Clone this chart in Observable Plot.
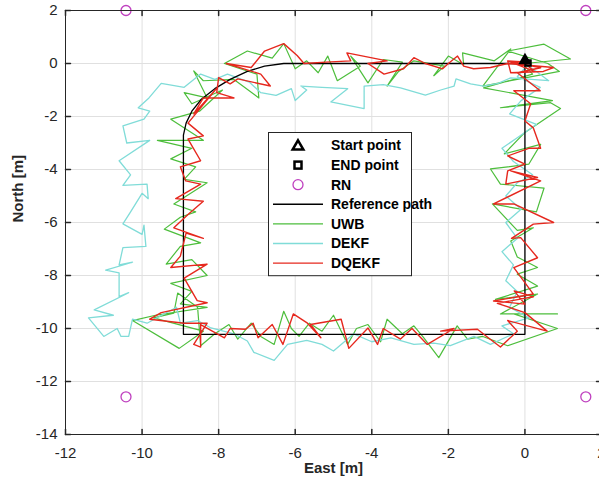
<!DOCTYPE html>
<html><head><meta charset="utf-8">
<script src="https://cdn.jsdelivr.net/npm/d3@7"></script>
<script src="https://cdn.jsdelivr.net/npm/@observablehq/plot@0.6"></script>
<style>
body{margin:0;background:#fff;}
#chart{position:relative;width:599px;height:491px;overflow:hidden;}
#chart svg{overflow:hidden;}
</style>
</head><body><div id="chart"></div>
<script>
// ---- axis ticks & labels ----
const xTicks = [-12, -10, -8, -6, -4, -2, 0, 2];
const yTicks = [-14, -12, -10, -8, -6, -4, -2, 0, 2];
const xLabel = "East [m]";
const yLabel = "North [m]";

// ---- fixed points ----
const startPoint = [[0.0, 0.12]];
const endPoint = [[0.08, 0.02]];
const rnPoints = [[-10.42, 2.0], [1.59, 2.0], [-10.42, -12.58], [1.59, -12.58]];

// ---- reference path [east, north] ----
const referencePath = [[0, 0], [-6.3, 0], [-6.8, -0.1], [-7.25, -0.3], [-7.7, -0.6], [-8.1, -0.95], [-8.45, -1.35], [-8.7, -1.8], [-8.85, -2.25], [-8.92, -2.7], [-8.92, -10.22], [0, -10.22], [0, 0]];

// ---- UWB measurements ----
const uwb = [[0, 0], [1.19, 0.17], [0.5, 0.73], [-0.45, 0.47], [0.6, 0.0], [0.9, -0.3], [-1.1, -0.85], [-0.37, 0.55], [-0.8, 0.1], [-1.63, 0.4], [-1.6, -0.05], [-2.0, 0.28], [-2.38, -0.46], [-2.1, -0.1], [-2.9, 0.1], [-3.3, -0.3], [-3.6, -0.85], [-3.2, 0.05], [-3.7, 0.15], [-4.1, -0.73], [-4.55, 0.28], [-4.3, -0.1], [-4.9, -0.65], [-5.15, 0.28], [-5.4, -0.35], [-5.7, 0.1], [-6.0, -0.2], [-6.3, 0.75], [-6.6, 0.2], [-7.25, 0.47], [-7.85, 0.0], [-7.0, -0.4], [-6.95, -1.3], [-7.6, -0.6], [-8.4, -0.65], [-8.65, -0.28], [-8.3, -1.3], [-8.9, -1.1], [-8.7, -1.52], [-7.9, -1.0], [-8.5, -1.8], [-9.25, -2.1], [-8.4, -2.9], [-9.6, -2.9], [-8.7, -3.2], [-9.25, -3.6], [-8.6, -3.9], [-8.9, -4.37], [-8.3, -4.5], [-9.17, -5.3], [-8.6, -5.6], [-9.0, -5.8], [-9.42, -6.25], [-8.47, -6.77], [-9.0, -6.9], [-9.37, -7.57], [-8.7, -7.4], [-8.3, -8.0], [-9.25, -8.3], [-8.7, -8.6], [-9.0, -9.07], [-8.3, -9.2], [-9.65, -9.5], [-10.25, -9.7], [-9.03, -10.75], [-8.4, -10.1], [-9.7, -9.6], [-9.17, -9.42], [-9.07, -8.66], [-8.55, -9.2], [-8.47, -10.65], [-8.1, -10.2], [-7.73, -9.85], [-7.5, -10.4], [-7.15, -9.8], [-6.9, -10.3], [-6.55, -10.6], [-6.3, -9.35], [-6.1, -10.0], [-5.9, -10.3], [-5.63, -9.8], [-5.3, -10.1], [-5.0, -9.5], [-4.63, -10.6], [-4.4, -10.0], [-4.1, -9.85], [-3.77, -10.5], [-3.6, -9.65], [-3.2, -10.2], [-2.9, -9.9], [-2.64, -10.35], [-2.25, -11.1], [-1.77, -9.9], [-1.5, -10.4], [-1.1, -10.3], [-0.45, -10.65], [0.85, -10.0], [-0.29, -9.45], [0.85, -9.45], [-0.64, -9.45], [0.33, -8.7], [-0.77, -8.9], [0.33, -8.4], [-0.2, -7.95], [0.33, -7.7], [-0.2, -7.3], [-0.37, -6.7], [0.22, -6.2], [-0.2, -6.3], [-0.85, -5.3], [0.3, -5.6], [0.5, -4.7], [-0.64, -4.55], [-0.9, -3.98], [0.1, -3.8], [0.41, -3.05], [-0.54, -3.41], [0.0, -2.6], [0.93, -1.7], [0.67, -1.48], [-0.64, -1.67], [0.72, -1.4], [-1.08, -0.92], [0.2, -0.4], [-0.1, 0.05]];

// ---- DEKF estimate ----
const dekf = [[0, 0], [0.3, -0.3], [0.62, -0.65], [-0.37, -0.54], [-0.7, -0.75], [-1.08, -0.85], [-1.42, -0.77], [-1.8, -0.58], [-1.85, -0.85], [-2.2, -1.0], [-2.6, -1.19], [-3.25, -0.92], [-3.7, -0.8], [-4.2, -0.85], [-4.2, -1.7], [-5.07, -1.45], [-4.63, -0.95], [-5.3, -0.9], [-5.85, -0.85], [-5.7, -1.0], [-6.0, -1.4], [-6.1, -0.95], [-6.5, -1.2], [-6.9, -1.1], [-7.2, -0.7], [-7.77, -0.4], [-8.1, -0.6], [-8.47, -0.4], [-8.9, -0.9], [-9.5, -0.75], [-9.82, -1.3], [-10.1, -1.67], [-9.8, -1.8], [-9.95, -2.1], [-10.5, -2.35], [-10.4, -3.0], [-9.8, -2.9], [-10.6, -3.67], [-10.3, -4.2], [-10.5, -4.6], [-9.87, -4.55], [-9.84, -5.1], [-10.0, -4.9], [-10.3, -5.6], [-10.5, -6.05], [-10.0, -6.45], [-9.95, -6.1], [-9.9, -6.9], [-10.5, -6.95], [-10.6, -7.6], [-10.25, -7.5], [-10.95, -7.8], [-10.6, -7.9], [-10.6, -8.8], [-10.35, -8.65], [-11.25, -9.3], [-10.75, -9.5], [-11.4, -9.6], [-11.0, -10.3], [-10.65, -10.0], [-10.55, -10.3], [-10.35, -10.3], [-10.25, -9.65], [-9.87, -9.8], [-9.1, -9.2], [-9.0, -9.8], [-8.55, -9.7], [-8.2, -9.98], [-7.6, -10.2], [-7.25, -10.47], [-7.08, -10.9], [-6.55, -11.2], [-6.2, -10.6], [-5.7, -10.45], [-5.3, -10.6], [-5.0, -10.85], [-4.47, -10.2], [-4.0, -10.5], [-3.5, -10.35], [-2.9, -10.6], [-2.38, -10.55], [-1.95, -10.65], [-1.33, -10.3], [-0.9, -10.6], [-0.3, -10.2], [-0.6, -9.9], [0.1, -9.6], [-0.4, -9.2], [-0.2, -8.6], [-0.5, -8.2], [-0.3, -7.6], [-0.6, -7.1], [-0.2, -6.6], [-0.5, -6.0], [-0.1, -5.5], [-0.5, -5.0], [-0.2, -4.5], [0.2, -4.2], [-0.3, -3.7], [-0.6, -3.2], [-0.2, -2.8], [0.3, -2.3], [-0.4, -1.9], [-0.1, -1.4], [0.4, -0.9], [-0.2, -0.5], [0.1, 0.0]];

// ---- DQEKF estimate ----
const dqekf = [[0.0, 0.0], [0.25, -0.3], [-0.45, 0.1], [-0.37, -0.35], [0.48, -0.3], [0.75, -0.15], [-0.45, 0.0], [-0.9, -0.15], [-1.34, -0.2], [-1.6, -0.1], [-1.76, 0.28], [-2.0, 0.0], [-2.15, -0.2], [-2.6, 0.0], [-2.9, 0.22], [-3.17, -0.2], [-3.68, -0.4], [-4.1, 0.0], [-3.6, 0.1], [-4.65, 0.4], [-4.55, 0.1], [-5.2, 0.05], [-5.77, 0.0], [-5.95, 0.3], [-6.3, 0.75], [-6.8, 0.47], [-7.15, -0.15], [-7.8, 0.0], [-6.9, -0.4], [-6.65, -0.85], [-7.5, -0.58], [-7.7, -0.77], [-8.0, -0.53], [-8.05, -1.1], [-7.6, -1.3], [-8.4, -1.3], [-8.65, -1.9], [-8.03, -0.9], [-8.8, -2.25], [-8.4, -2.73], [-8.8, -2.85], [-8.47, -3.67], [-9.0, -3.9], [-8.86, -4.43], [-8.47, -4.55], [-9.12, -5.1], [-8.4, -5.2], [-8.8, -5.7], [-9.17, -6.2], [-8.4, -6.6], [-8.85, -6.4], [-9.0, -7.27], [-9.25, -7.7], [-8.3, -7.57], [-8.9, -8.1], [-8.56, -8.95], [-8.3, -9.03], [-9.5, -9.4], [-9.8, -9.65], [-8.9, -9.8], [-8.3, -9.8], [-8.65, -10.6], [-8.47, -10.7], [-8.47, -9.85], [-7.85, -10.35], [-7.7, -10.0], [-7.3, -10.03], [-7.1, -9.8], [-6.97, -10.35], [-6.6, -9.85], [-6.32, -10.6], [-6.05, -9.45], [-5.68, -9.8], [-5.33, -10.35], [-5.6, -9.85], [-4.8, -9.65], [-4.6, -10.75], [-4.1, -9.98], [-3.85, -10.6], [-3.7, -10.0], [-3.25, -10.4], [-2.95, -10.0], [-2.55, -10.6], [-1.85, -10.0], [-2.2, -10.1], [-1.24, -10.03], [-1.0, -10.3], [-0.64, -10.7], [-0.2, -10.1], [-0.45, -9.7], [0.58, -10.1], [0.0, -9.4], [-0.72, -9.05], [0.22, -8.8], [-0.28, -8.58], [0.0, -9.08], [-0.82, -8.96], [0.22, -8.7], [-0.29, -7.7], [0.33, -7.33], [-0.11, -6.57], [-0.35, -6.6], [0.22, -6.06], [0.75, -6.0], [-0.29, -5.3], [-0.82, -5.3], [0.41, -4.43], [-0.37, -4.05], [0.33, -4.3], [-0.5, -4.55], [-0.45, -4.05], [0.0, -3.8], [-0.45, -3.49], [0.1, -3.2], [0.41, -3.2], [0.22, -2.43], [0.0, -2.17], [0.15, -1.52], [-0.29, -1.03], [0.4, -1.03], [-0.2, -0.35], [0.41, -0.16], [-0.45, 0.1], [0.1, 0.05]];

// ---- legend ----
const legendLabels = ["Start point", "END point", "RN", "Reference path", "UWB", "DEKF", "DQEKF"];
const legendKinds = ["triangle", "square", "circle", "line", "line", "line", "line"];
const legendColors = ["#000000", "#000000", "#bf40bf", "#000000", "#4dbe3c", "#80dcd8", "#e6281e"];

const axisColor = "#262626";
const px = d => d[0], py = d => d[1];
const tickShape = {draw(ctx, l) { ctx.moveTo(0, 0); ctx.lineTo(0, -l); }};

const plot = Plot.plot({
  width: 599, height: 491,
  marginLeft: 65, marginRight: -2, marginTop: 10, marginBottom: 57,
  x: {domain: [-12, 2]},
  y: {domain: [-14, 2]},
  style: {fontFamily: "'Liberation Sans', Arial, sans-serif", fontSize: "15px", color: axisColor, background: "#fff"},
  marks: [
    Plot.ruleX(xTicks, {stroke: "#e0e0e0", strokeWidth: 1}),
    Plot.ruleY(yTicks, {stroke: "#e0e0e0", strokeWidth: 1}),
    Plot.line(uwb, {x: px, y: py, stroke: legendColors[4], strokeWidth: 1.2, curve: "linear"}),
    Plot.line(dekf, {x: px, y: py, stroke: legendColors[5], strokeWidth: 1.3, curve: "linear"}),
    Plot.line(referencePath, {x: px, y: py, stroke: "#000", strokeWidth: 1.3, curve: "linear"}),
    Plot.line(dqekf, {x: px, y: py, stroke: legendColors[6], strokeWidth: 1.4, curve: "linear"}),
    Plot.dot(startPoint, {x: px, y: py, symbol: "triangle", r: 3.5, stroke: "#000", strokeWidth: 2.2, fill: "#000"}),
    Plot.dot(endPoint, {x: px, y: py, symbol: "square", r: 3, stroke: "#000", strokeWidth: 2.2, fill: "none"}),
    Plot.dot(rnPoints, {x: px, y: py, r: 5, stroke: legendColors[2], strokeWidth: 1.3, fill: "none"}),
    Plot.frame({stroke: axisColor, strokeWidth: 1}),
    // inward ticks
    Plot.vector(xTicks, {x: d => d, y: -14, length: 5, rotate: 0, anchor: "start", shape: tickShape, stroke: axisColor}),
    Plot.vector(xTicks, {x: d => d, y: 2, length: 5, rotate: 180, anchor: "start", shape: tickShape, stroke: axisColor}),
    Plot.vector(yTicks, {x: -12, y: d => d, length: 5, rotate: 90, anchor: "start", shape: tickShape, stroke: axisColor}),
    Plot.vector(yTicks, {x: 2, y: d => d, length: 5, rotate: -90, anchor: "start", shape: tickShape, stroke: axisColor}),
    Plot.axisX(xTicks, {anchor: "bottom", tickSize: 0, tickPadding: 13, tickFormat: d => String(d), label: null, fontSize: 15, fill: axisColor}),
    Plot.axisY(yTicks, {anchor: "left", tickSize: 0, tickPadding: 8, tickFormat: d => String(d), label: null, fontSize: 15, fill: axisColor}),
    Plot.text([xLabel], {frameAnchor: "bottom", dy: 38, text: d => d, fontWeight: "bold", fontSize: 15, fill: axisColor}),
    Plot.text([yLabel], {frameAnchor: "left", dx: -47, rotate: -90, text: d => d, fontWeight: "bold", fontSize: 15, fill: axisColor})
  ]
});
document.getElementById("chart").appendChild(plot);

// legend box drawn into the SVG
const svg = d3.select(plot);
const lg = svg.append("g").attr("font-family", "'Liberation Sans', Arial, sans-serif").attr("text-anchor", "start");
const lx = 268, ly = 132, lw = 143, rowH = 19.6;
lg.append("rect").attr("x", lx + 0.5).attr("y", ly + 0.5).attr("width", lw).attr("height", legendLabels.length * rowH + 6)
  .attr("fill", "#fff").attr("stroke", axisColor).attr("stroke-width", 1);
legendLabels.forEach((lab, i) => {
  const cy = ly + 13.5 + i * rowH;
  const kind = legendKinds[i], col = legendColors[i];
  if (kind === "line") {
    lg.append("line").attr("x1", lx + 5).attr("x2", lx + 55).attr("y1", cy).attr("y2", cy).attr("stroke", col).attr("stroke-width", 1.4);
  } else if (kind === "triangle") {
    lg.append("path").attr("d", d3.symbol(d3.symbolTriangle, 50)()).attr("transform", `translate(${lx + 30},${cy + 1})`)
      .attr("fill", "none").attr("stroke", col).attr("stroke-width", 2.5);
  } else if (kind === "square") {
    lg.append("rect").attr("x", lx + 26.5).attr("y", cy - 3.5).attr("width", 7).attr("height", 7)
      .attr("fill", "none").attr("stroke", col).attr("stroke-width", 2.5);
  } else {
    lg.append("circle").attr("cx", lx + 30).attr("cy", cy).attr("r", 5).attr("fill", "none").attr("stroke", col).attr("stroke-width", 1.3);
  }
  lg.append("text").attr("x", lx + 63).attr("y", cy).attr("dy", "0.35em").attr("text-anchor", "start")
    .attr("font-size", 14).attr("font-weight", "bold").attr("fill", "#000").text(lab);
});
</script>
</body></html>
